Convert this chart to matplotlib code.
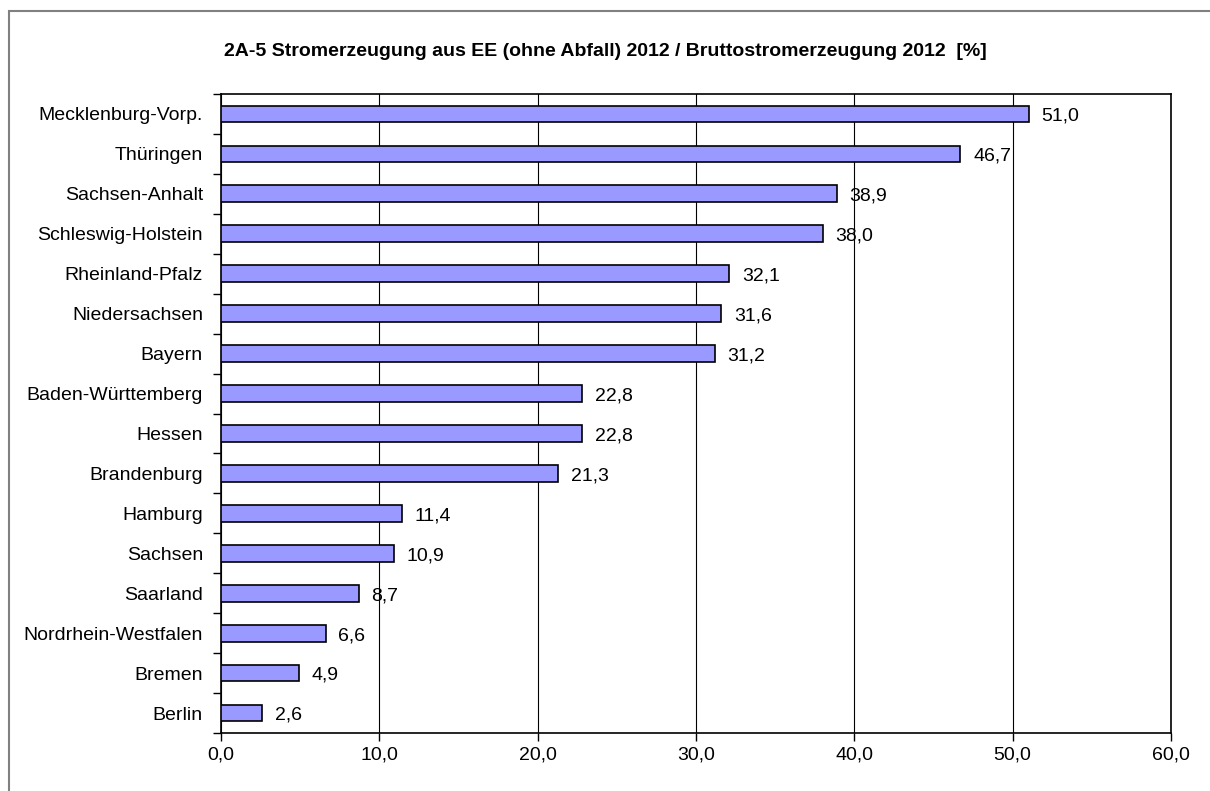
import numpy as np
import matplotlib.pyplot as plt
from matplotlib.patches import Rectangle

plt.rcParams['font.family'] = ['Liberation Sans', 'DejaVu Sans']

laender = ["Mecklenburg-Vorp.", "Thüringen", "Sachsen-Anhalt", "Schleswig-Holstein",
           "Rheinland-Pfalz", "Niedersachsen", "Bayern", "Baden-Württemberg",
           "Hessen", "Brandenburg", "Hamburg", "Sachsen", "Saarland",
           "Nordrhein-Westfalen", "Bremen", "Berlin"]
anteil = [51.0, 46.7, 38.9, 38.0, 32.1, 31.6, 31.2, 22.8, 22.8, 21.3,
          11.4, 10.9, 8.7, 6.6, 4.9, 2.6]
xticks = [0, 10, 20, 30, 40, 50, 60]

W, H = 1210, 791
fig = plt.figure(figsize=(W / 100, H / 100), dpi=100)
# grauer Rahmen um das Diagramm
fig.patches.append(Rectangle((9 / W, -0.05), 1.1, 1 - 11 / H + 0.05, transform=fig.transFigure,
                             fill=False, edgecolor="#808080", lw=1.5))

ax = fig.add_axes([221 / W, 1 - 733 / H, (1171 - 221) / W, (733 - 94) / H])

n = len(laender)
y = np.arange(n)[::-1]
ax.barh(y, anteil, height=0.42, color="#9999FF", edgecolor="black", lw=1.2, zorder=3)
for yi, v in zip(y, anteil):
    ax.text(v + 0.8, yi - 0.06, f"{v:.1f}".replace(".", ","), va="center", ha="left", fontsize=14, zorder=4)

ax.set_xlim(0, 60)
ax.set_ylim(-0.5, n - 0.5)
ax.set_xticks(xticks)
ax.set_xticklabels([f"{t:.1f}".replace(".", ",") for t in xticks], fontsize=14)
ax.set_yticks(y)
ax.set_yticklabels(laender, fontsize=14)
ax.set_yticks(np.arange(-0.5, n, 1.0), minor=True)
ax.tick_params(axis="y", which="major", length=0, pad=13)
ax.tick_params(axis="y", which="minor", length=6, width=1)
ax.tick_params(axis="x", length=6, width=1, pad=4)
ax.grid(axis="x", color="black", lw=0.8, zorder=0)
for s in ax.spines.values():
    s.set_color("black")
    s.set_linewidth(1.2)

fig.text(0.5, 1 - 52 / H, "2A-5 Stromerzeugung aus EE (ohne Abfall) 2012 / Bruttostromerzeugung 2012  [%]",
         ha="center", va="center", fontsize=14, fontweight="bold")

fig.savefig("out.png", dpi=100)
